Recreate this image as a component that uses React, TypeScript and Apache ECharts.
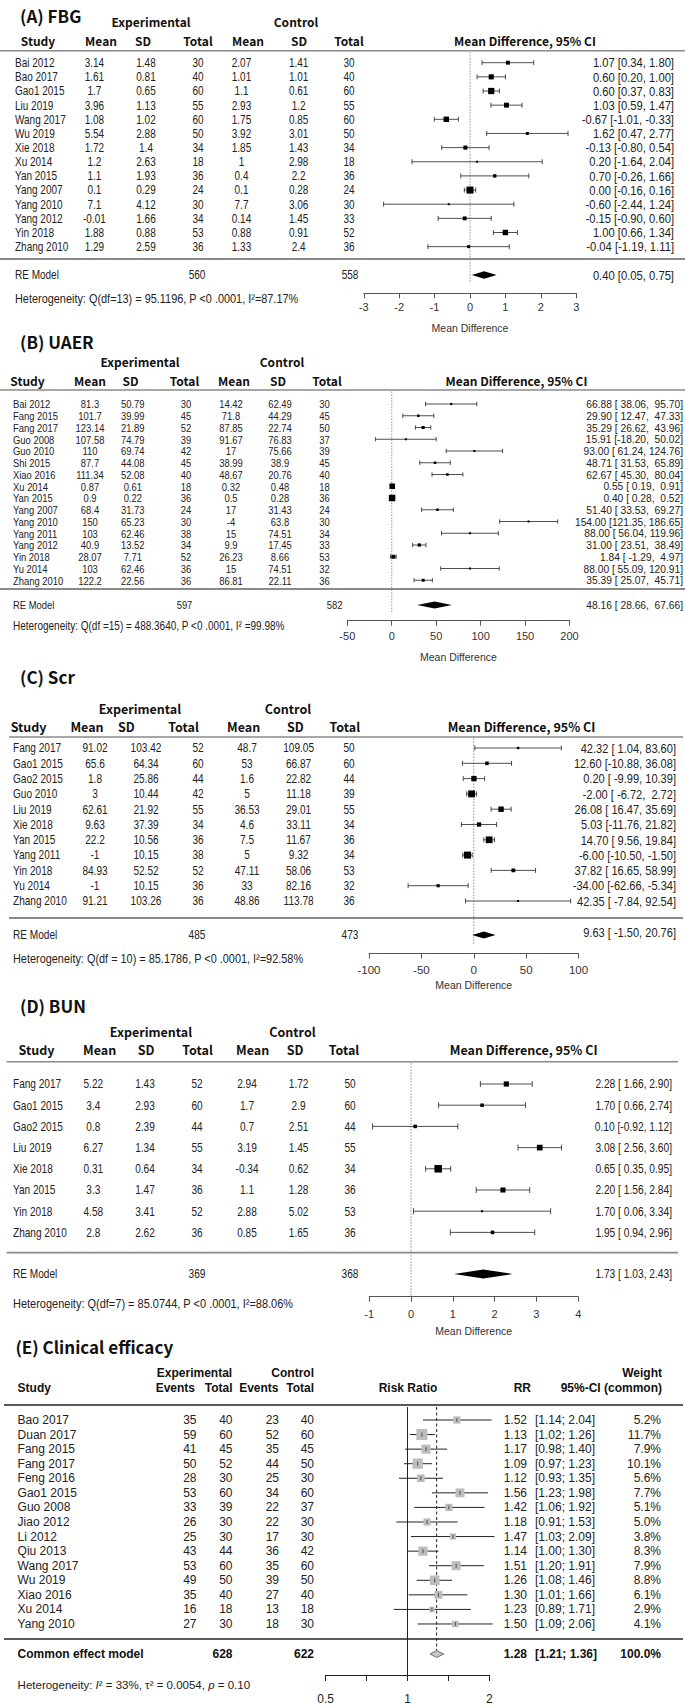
import React, { useEffect, useRef } from "react";
import * as echarts from "echarts";

/* ================= (A) FBG ================= */
const fbgStudies = ["Bai 2012", "Bao 2017", "Gao1 2015", "Liu 2019", "Wang 2017", "Wu 2019", "Xie 2018", "Xu 2014", "Yan 2015", "Yang 2007", "Yang 2010", "Yang 2012", "Yin 2018", "Zhang 2010"];
const fbgExpMean = [3.14, 1.61, 1.7, 3.96, 1.08, 5.54, 1.72, 1.2, 1.1, 0.1, 7.1, -0.01, 1.88, 1.29];
const fbgExpSD = [1.48, 0.81, 0.65, 1.13, 1.02, 2.88, 1.4, 2.63, 1.93, 0.29, 4.12, 1.66, 0.88, 2.59];
const fbgExpN = [30, 40, 60, 55, 60, 50, 34, 18, 36, 24, 30, 34, 53, 36];
const fbgCtlMean = [2.07, 1.01, 1.1, 2.93, 1.75, 3.92, 1.85, 1, 0.4, 0.1, 7.7, 0.14, 0.88, 1.33];
const fbgCtlSD = [1.41, 1.01, 0.61, 1.2, 0.85, 3.01, 1.43, 2.98, 2.2, 0.28, 3.06, 1.45, 0.91, 2.4];
const fbgCtlN = [30, 40, 60, 55, 60, 50, 34, 18, 36, 24, 30, 33, 52, 36];
const fbgMD = [1.07, 0.6, 0.6, 1.03, -0.67, 1.62, -0.13, 0.2, 0.7, 0.0, -0.6, -0.15, 1.0, -0.04];
const fbgLo = [0.34, 0.2, 0.37, 0.59, -1.01, 0.47, -0.8, -1.64, -0.26, -0.16, -2.44, -0.9, 0.66, -1.19];
const fbgHi = [1.8, 1.0, 0.83, 1.47, -0.33, 2.77, 0.54, 2.04, 1.66, 0.16, 1.24, 0.6, 1.34, 1.11];
const fbgPooled = [0.4, 0.05, 0.75];
const fbgTotals = [560, 558];
const fbgAxis = [-3, 3, 1];
const fbgHet = "Heterogeneity: Q(df=13) = 95.1196, P <0 .0001, I²=87.17%";

/* ================= (B) UAER ================= */
const uaerStudies = ["Bai 2012", "Fang 2015", "Fang 2017", "Guo 2008", "Guo 2010", "Shi 2015", "Xiao 2016", "Xu 2014", "Yan 2015", "Yang 2007", "Yang 2010", "Yang 2011", "Yang 2012", "Yin 2018", "Yu 2014", "Zhang 2010"];
const uaerExpMean = [81.3, 101.7, 123.14, 107.58, 110, 87.7, 111.34, 0.87, 0.9, 68.4, 150, 103, 40.9, 28.07, 103, 122.2];
const uaerExpSD = [50.79, 39.99, 21.89, 74.79, 69.74, 44.08, 52.08, 0.61, 0.22, 31.73, 65.23, 62.46, 13.52, 7.71, 62.46, 22.56];
const uaerExpN = [30, 45, 52, 39, 42, 45, 40, 18, 36, 24, 30, 38, 34, 52, 36, 36];
const uaerCtlMean = [14.42, 71.8, 87.85, 91.67, 17, 38.99, 48.67, 0.32, 0.5, 17, -4, 15, 9.9, 26.23, 15, 86.81];
const uaerCtlSD = [62.49, 44.29, 22.74, 76.83, 75.66, 38.9, 20.76, 0.48, 0.28, 31.43, 63.8, 74.51, 17.45, 8.66, 74.51, 22.11];
const uaerCtlN = [30, 45, 50, 37, 39, 45, 40, 18, 36, 24, 30, 34, 33, 53, 32, 36];
const uaerMD = [66.88, 29.9, 35.29, 15.91, 93.0, 48.71, 62.67, 0.55, 0.4, 51.4, 154.0, 88.0, 31.0, 1.84, 88.0, 35.39];
const uaerLo = [38.06, 12.47, 26.62, -18.2, 61.24, 31.53, 45.3, 0.19, 0.28, 33.53, 121.35, 56.04, 23.51, -1.29, 55.09, 25.07];
const uaerHi = [95.7, 47.33, 43.96, 50.02, 124.76, 65.89, 80.04, 0.91, 0.52, 69.27, 186.65, 119.96, 38.49, 4.97, 120.91, 45.71];
const uaerPooled = [48.16, 28.66, 67.66];
const uaerTotals = [597, 582];
const uaerAxis = [-50, 200, 50];
const uaerHet = "Heterogeneity: Q(df =15) = 488.3640, P <0 .0001, I² =99.98%";

/* ================= (C) Scr ================= */
const scrStudies = ["Fang 2017", "Gao1 2015", "Gao2 2015", "Guo 2010", "Liu 2019", "Xie 2018", "Yan 2015", "Yang 2011", "Yin 2018", "Yu 2014", "Zhang 2010"];
const scrExpMean = [91.02, 65.6, 1.8, 3, 62.61, 9.63, 22.2, -1, 84.93, -1, 91.21];
const scrExpSD = [103.42, 64.34, 25.86, 10.44, 21.92, 37.39, 10.56, 10.15, 52.52, 10.15, 103.26];
const scrExpN = [52, 60, 44, 42, 55, 34, 36, 38, 52, 36, 36];
const scrCtlMean = [48.7, 53, 1.6, 5, 36.53, 4.6, 7.5, 5, 47.11, 33, 48.86];
const scrCtlSD = [109.05, 66.87, 22.82, 11.18, 29.01, 33.11, 11.67, 9.32, 58.06, 82.16, 113.78];
const scrCtlN = [50, 60, 44, 39, 55, 34, 36, 34, 53, 32, 36];
const scrMD = [42.32, 12.6, 0.2, -2.0, 26.08, 5.03, 14.7, -6.0, 37.82, -34.0, 42.35];
const scrLo = [1.04, -10.88, -9.99, -6.72, 16.47, -11.76, 9.56, -10.5, 16.65, -62.66, -7.84];
const scrHi = [83.6, 36.08, 10.39, 2.72, 35.69, 21.82, 19.84, -1.5, 58.99, -5.34, 92.54];
const scrPooled = [9.63, -1.5, 20.76];
const scrTotals = [485, 473];
const scrAxis = [-100, 100, 50];
const scrHet = "Heterogeneity: Q(df = 10) = 85.1786, P <0 .0001, I²=92.58%";

/* ================= (D) BUN ================= */
const bunStudies = ["Fang 2017", "Gao1 2015", "Gao2 2015", "Liu 2019", "Xie 2018", "Yan 2015", "Yin 2018", "Zhang 2010"];
const bunExpMean = [5.22, 3.4, 0.8, 6.27, 0.31, 3.3, 4.58, 2.8];
const bunExpSD = [1.43, 2.93, 2.39, 1.34, 0.64, 1.47, 3.41, 2.62];
const bunExpN = [52, 60, 44, 55, 34, 36, 52, 36];
const bunCtlMean = [2.94, 1.7, 0.7, 3.19, -0.34, 1.1, 2.88, 0.85];
const bunCtlSD = [1.72, 2.9, 2.51, 1.45, 0.62, 1.28, 5.02, 1.65];
const bunCtlN = [50, 60, 44, 55, 34, 36, 53, 36];
const bunMD = [2.28, 1.7, 0.1, 3.08, 0.65, 2.2, 1.7, 1.95];
const bunLo = [1.66, 0.66, -0.92, 2.56, 0.35, 1.56, 0.06, 0.94];
const bunHi = [2.9, 2.74, 1.12, 3.6, 0.95, 2.84, 3.34, 2.96];
const bunPooled = [1.73, 1.03, 2.43];
const bunTotals = [369, 368];
const bunAxis = [-1, 4, 1];
const bunHet = "Heterogeneity: Q(df=7) = 85.0744, P <0 .0001, I²=88.06%";

/* ================= (E) Clinical efficacy ================= */
const effStudies = ["Bao 2017", "Duan 2017", "Fang 2015", "Fang 2017", "Feng 2016", "Gao1 2015", "Guo 2008", "Jiao 2012", "Li 2012", "Qiu 2013", "Wang 2017", "Wu 2019", "Xiao 2016", "Xu 2014", "Yang 2010"];
const effExpEvents = [35, 59, 41, 50, 28, 53, 33, 26, 25, 43, 53, 49, 35, 16, 27];
const effExpTotal = [40, 60, 45, 52, 30, 60, 39, 30, 30, 44, 60, 50, 40, 18, 30];
const effCtlEvents = [23, 52, 35, 44, 25, 34, 22, 22, 17, 36, 35, 39, 27, 13, 18];
const effCtlTotal = [40, 60, 45, 50, 30, 60, 37, 30, 30, 42, 60, 50, 40, 18, 30];
const effRR = [1.52, 1.13, 1.17, 1.09, 1.12, 1.56, 1.42, 1.18, 1.47, 1.14, 1.51, 1.26, 1.3, 1.23, 1.5];
const effLo = [1.14, 1.02, 0.98, 0.97, 0.93, 1.23, 1.06, 0.91, 1.03, 1.0, 1.2, 1.08, 1.01, 0.89, 1.09];
const effHi = [2.04, 1.26, 1.4, 1.23, 1.35, 1.98, 1.92, 1.53, 2.09, 1.3, 1.91, 1.46, 1.66, 1.71, 2.06];
const effWeight = [5.2, 11.7, 7.9, 10.1, 5.6, 7.7, 5.1, 5.0, 3.8, 8.3, 7.9, 8.8, 6.1, 2.9, 4.1];
const effPooled = [1.28, 1.21, 1.36];
const effTotals = [628, 622];
const effAxisTicks = [0.5, 1, 2];

/* ================= fonts ================= */
const F_ARIAL = '"Liberation Sans", Arial, sans-serif';
const F_HEAD = '"Noto Sans CJK KR", "Noto Sans", sans-serif';
const NARROW = 0.82; // horizontal squeeze emulating a narrow face

const mdPanels = [
  { title: "(A) FBG", studies: fbgStudies, cells: [fbgExpMean, fbgExpSD, fbgExpN, fbgCtlMean, fbgCtlSD, fbgCtlN], md: fbgMD, lo: fbgLo, hi: fbgHi, pooled: fbgPooled, totals: fbgTotals, axis: fbgAxis, het: fbgHet, pad: false },
  { title: "(B) UAER", studies: uaerStudies, cells: [uaerExpMean, uaerExpSD, uaerExpN, uaerCtlMean, uaerCtlSD, uaerCtlN], md: uaerMD, lo: uaerLo, hi: uaerHi, pooled: uaerPooled, totals: uaerTotals, axis: uaerAxis, het: uaerHet, pad: true },
  { title: "(C) Scr", studies: scrStudies, cells: [scrExpMean, scrExpSD, scrExpN, scrCtlMean, scrCtlSD, scrCtlN], md: scrMD, lo: scrLo, hi: scrHi, pooled: scrPooled, totals: scrTotals, axis: scrAxis, het: scrHet, pad: true },
  { title: "(D) BUN", studies: bunStudies, cells: [bunExpMean, bunExpSD, bunExpN, bunCtlMean, bunCtlSD, bunCtlN], md: bunMD, lo: bunLo, hi: bunHi, pooled: bunPooled, totals: bunTotals, axis: bunAxis, het: bunHet, pad: true },
];

/* layout (pixels) */
const mdLayouts = [
  { titleX: 20, titleY: 15, expY: 21.7, headY: 40.7, lineY: 50.7, row0: 62.7, step: 14.15, sepY: 259, reY: 275, axisY: 293.3, hetY: 298.3, zeroEnd: 283,
    x0: 363.8, x1: 576.2, rowFont: 12.2, headFont: 12, axisFont: 11, nameFont: 10.5, hetFont: 13.3, ciSx: 0.92,
    cols: [15, 94.4, 146, 198, 241.5, 298.6, 349], heads: [38, 101, 143, 198, 248, 299, 349], expX: 151, ctlX: 296, mdHeadX: 525,
    ciX: 674, totX: [197, 350], labelMargin: 8, nameGap: 29, boxMin: 2, boxMax: 7, capH: 2.5, ruleX: [0, 685], diaH: 3.8, reCiDy: 0 },
  { titleX: 20, titleY: 341.7, expY: 361.7, headY: 380, lineY: 390, row0: 404, step: 11.75, sepY: 589, reY: 605, axisY: 620.7, hetY: 626, zeroEnd: 612,
    x0: 347.3, x1: 569.5, rowFont: 11.5, headFont: 12, axisFont: 11, nameFont: 10.5, hetFont: 12.2, ciSx: 0.89,
    cols: [13, 90, 132.8, 185.9, 231, 280, 324.5], heads: [27.5, 90, 130.5, 184.5, 234, 278, 327], expX: 140, ctlX: 282, mdHeadX: 516.5,
    ciX: 683, totX: [184.5, 334.6], labelMargin: 9.5, nameGap: 31, boxMin: 2, boxMax: 6.5, capH: 2.2, ruleX: [0, 685], diaH: 3.4, reCiDy: 0 },
  { titleX: 20, titleY: 676.7, expY: 708, headY: 726, lineY: 737, row0: 748, step: 15.3, sepY: 918, reY: 935, axisY: 953.5, hetY: 958.3, zeroEnd: 944,
    x0: 369, x1: 578.5, rowFont: 12.3, headFont: 12.5, axisFont: 11.5, nameFont: 10.5, hetFont: 13.3, ciSx: 0.9,
    cols: [13, 95, 146, 198, 247, 298.6, 349], heads: [28.6, 87, 126.4, 183.6, 243.7, 295.4, 344.8], expX: 140, ctlX: 288, mdHeadX: 521.5,
    ciX: 676, totX: [197, 350], labelMargin: 10, nameGap: 26, boxMin: 2, boxMax: 7, capH: 2.5, ruleX: [9, 683], diaH: 3.6, reCiDy: -3 },
  { titleX: 20, titleY: 1005, expY: 1031, headY: 1049.3, lineY: 1061.7, row0: 1084, step: 21.2, sepY: 1252.7, reY: 1274, axisY: 1296.7, hetY: 1303.3, zeroEnd: 1296.7,
    x0: 369.2, x1: 578.2, rowFont: 12.3, headFont: 12.5, axisFont: 11, nameFont: 10.5, hetFont: 13.4, ciSx: 0.83,
    cols: [13, 93.3, 145, 197, 247, 298.6, 350], heads: [36.5, 99.6, 146, 197.6, 252.6, 295, 344], expX: 151, ctlX: 292.5, mdHeadX: 523.7,
    ciX: 672, totX: [197, 350], labelMargin: 12, nameGap: 29, boxMin: 2, boxMax: 7.5, capH: 3, ruleX: [6.6, 678], diaH: 4.5, reCiDy: 0 },
];

const effLayout = {
  titleX: 15.4, titleY: 1346.7, expY: 1373, headY: 1388, lineY: 1405, row0: 1420, step: 14.57, sepY: 1639, reY: 1654, axisY: 1675, hetY: 1685,
  x0: 325.7, x1: 489.3, font: 12, headFont: 12, hetFont: 11.5,
  study: 17.6, eEv: 196.5, eN: 232.5, cEv: 279, cN: 314, rr: 527, ci: 535, w: 661,
  hExp: 194.5, hCtl: 314, hW: 662, hEv1: 195, hN1: 232.5, hEv2: 278.5, hN2: 314, hRisk: 408, hRR: 531, hCI: 662,
  boxMax: 11, diaH: 3.5, labelMargin: 18,
};

/* ================= helpers ================= */
function textEl(x: number, y: number, text: string, o: any) {
  const align = o.align || "center";
  const weight = o.weight || "normal";
  const style: any = {
    text,
    fill: o.color || "#222",
    fontSize: o.size,
    fontFamily: o.family,
    fontWeight: weight,
    fontStyle: o.italic ? "italic" : "normal",
    font: `${o.italic ? "italic " : ""}${weight} ${o.size}px ${o.family}`,
    align,
    textAlign: align,
    verticalAlign: "middle",
    textVerticalAlign: "middle",
  };
  if (o.rich) style.rich = o.rich;
  const el: any = { type: "text", x, y, silent: true, style };
  if (o.sx) el.scaleX = o.sx;
  return el;
}

function ruleEl(x1: number, x2: number, y: number, color: string, w: number) {
  return { type: "line", silent: true, shape: { x1, y1: y, x2, y2: y }, style: { stroke: color, lineWidth: w } };
}

function ciStrings(d: any) {
  const f = (v: number) => v.toFixed(2);
  const allLo = d.lo.concat([d.pooled[1]]).map(f);
  const allHi = d.hi.concat([d.pooled[2]]).map(f);
  const wl = Math.max(...allLo.map((s: string) => s.length));
  const wh = Math.max(...allHi.map((s: string) => s.length));
  const pad = (s: string, n: number) => (d.pad && s.length < n ? "\u00A0" + s : s);
  const make = (m: number, l: number, h: number) => `${f(m)} [${pad(f(l), wl)}, ${pad(f(h), wh)}]`;
  return {
    rows: d.md.map((m: number, i: number) => make(m, d.lo[i], d.hi[i])),
    pooled: make(d.pooled[0], d.pooled[1], d.pooled[2]),
  };
}

/* ================= option ================= */
function buildOption() {
  const grid: any[] = [];
  const xAxis: any[] = [];
  const yAxis: any[] = [];
  const series: any[] = [];
  const graphic: any[] = [];

  mdPanels.forEach((d, k) => {
    const L = mdLayouts[k];
    const rowFont = { size: L.rowFont, family: F_ARIAL, sx: NARROW, color: "#222" };
    const ciFont = { size: L.rowFont, family: F_ARIAL, sx: L.ciSx, color: "#222", align: "right" };
    const headOpt = { size: L.headFont, family: F_HEAD, weight: "bold", color: "#111" };

    grid.push({ left: L.x0, width: L.x1 - L.x0, top: L.lineY, height: L.axisY - L.lineY, containLabel: false, outerBoundsMode: "none" });
    xAxis.push({
      gridIndex: k, type: "value", min: d.axis[0], max: d.axis[1], interval: d.axis[2], position: "bottom",
      axisLine: { show: true, onZero: false, lineStyle: { color: "#555", width: 1 } },
      axisTick: { show: true, inside: false, length: 5, lineStyle: { color: "#555", width: 1 } },
      axisLabel: { color: "#333", fontSize: L.axisFont, fontFamily: F_ARIAL, margin: L.labelMargin },
      splitLine: { show: false },
      name: "Mean Difference", nameLocation: "middle", nameGap: L.nameGap,
      nameTextStyle: { color: "#333", fontSize: L.nameFont, fontFamily: F_ARIAL },
    });
    yAxis.push({ gridIndex: k, type: "value", min: (L.lineY - L.row0) / L.step, max: (L.axisY - L.row0) / L.step, inverse: true, show: false });

    const ci = ciStrings(d);
    const reRow = (L.reY - L.row0) / L.step;
    const zTop = (L.lineY + 1.5 - L.row0) / L.step;
    const zEnd = (L.zeroEnd - L.row0) / L.step;

    // pooled estimate + zero reference line
    series.push({
      type: "custom", xAxisIndex: k, yAxisIndex: k, clip: false, silent: true,
      encode: { x: [0, 1, 2], y: 3 },
      data: [[d.pooled[0], d.pooled[1], d.pooled[2], reRow]],
      renderItem: (params: any, api: any) => {
        const rv = api.value(3);
        const c = api.coord([api.value(0), rv]);
        const l = api.coord([api.value(1), rv]);
        const h = api.coord([api.value(2), rv]);
        const z0 = api.coord([0, zTop]);
        const z1 = api.coord([0, zEnd]);
        const y = c[1];
        return {
          type: "group",
          children: [
            { type: "line", shape: { x1: z0[0], y1: z0[1], x2: z1[0], y2: z1[1] }, style: { stroke: "#777", lineWidth: 0.8, lineDash: [1.5, 1.5] } },
            { type: "polygon", shape: { points: [[l[0], y], [c[0], y - L.diaH], [h[0], y], [c[0], y + L.diaH]] }, style: { fill: "#000" } },
            textEl(L.cols[0], y, "RE Model", { ...rowFont, align: "left" }),
            textEl(L.totX[0], y, String(d.totals[0]), rowFont),
            textEl(L.totX[1], y, String(d.totals[1]), rowFont),
            textEl(L.ciX, y + L.reCiDy, ci.pooled, ciFont),
          ],
        };
      },
    });

    // study rows
    const ws = d.lo.map((l: number, i: number) => 3.92 / (d.hi[i] - l));
    const lnMin = Math.log(Math.min(...ws));
    const lnMax = Math.log(Math.max(...ws));
    series.push({
      type: "custom", xAxisIndex: k, yAxisIndex: k, clip: false, silent: true,
      encode: { x: [0, 1, 2], y: 3 },
      data: d.md.map((m: number, i: number) => [m, d.lo[i], d.hi[i], i]),
      renderItem: (params: any, api: any) => {
        const i = params.dataIndex;
        const rv = api.value(3);
        const e = api.coord([api.value(0), rv]);
        const l = api.coord([api.value(1), rv]);
        const h = api.coord([api.value(2), rv]);
        const y = e[1];
        const t = (Math.log(ws[i]) - lnMin) / (lnMax - lnMin);
        const s = L.boxMin + t * (L.boxMax - L.boxMin);
        const ls = { stroke: "#222", lineWidth: 0.8 };
        const kids: any[] = [
          { type: "line", shape: { x1: l[0], y1: y, x2: h[0], y2: y }, style: ls },
          { type: "line", shape: { x1: l[0], y1: y - L.capH, x2: l[0], y2: y + L.capH }, style: ls },
          { type: "line", shape: { x1: h[0], y1: y - L.capH, x2: h[0], y2: y + L.capH }, style: ls },
          { type: "rect", shape: { x: e[0] - s / 2, y: y - s / 2, width: s, height: s }, style: { fill: "#000" } },
          textEl(L.cols[0], y, d.studies[i], { ...rowFont, align: "left" }),
        ];
        d.cells.forEach((col: number[], j: number) => {
          kids.push(textEl(L.cols[j + 1], y, String(col[i]), rowFont));
        });
        kids.push(textEl(L.ciX, y, ci.rows[i], ciFont));
        return { type: "group", children: kids };
      },
    });

    // static table furniture
    graphic.push(textEl(L.titleX, L.titleY, d.title, { size: 17, family: F_HEAD, weight: "bold", color: "#111", align: "left" }));
    graphic.push(textEl(L.expX, L.expY, "Experimental", headOpt));
    graphic.push(textEl(L.ctlX, L.expY, "Control", headOpt));
    ["Study", "Mean", "SD", "Total", "Mean", "SD", "Total"].forEach((h, j) => {
      graphic.push(textEl(L.heads[j], L.headY, h, headOpt));
    });
    graphic.push(textEl(L.mdHeadX, L.headY, "Mean Difference, 95% CI", headOpt));
    graphic.push(ruleEl(L.ruleX[0], L.ruleX[1], L.lineY, "#8a8a8a", 1.6));
    graphic.push(ruleEl(L.ruleX[0], L.ruleX[1], L.sepY, "#8a8a8a", 1.8));
    graphic.push(textEl(L.cols[0], L.hetY, d.het, { size: L.hetFont, family: F_ARIAL, sx: NARROW, align: "left", color: "#222" }));
  });

  /* ---------- panel E ---------- */
  const E = effLayout;
  const k = 4;
  grid.push({ left: E.x0, width: E.x1 - E.x0, top: E.lineY, height: E.axisY - E.lineY, containLabel: false, outerBoundsMode: "none" });
  xAxis.push({
    gridIndex: k, type: "value", min: Math.log2(effAxisTicks[0]), max: Math.log2(effAxisTicks[2]), interval: 0.5, position: "bottom",
    axisLine: { show: true, onZero: false, lineStyle: { color: "#222", width: 1 } },
    axisTick: { show: true, inside: false, length: 6, lineStyle: { color: "#222", width: 1 } },
    axisLabel: {
      color: "#222", fontSize: 12, fontFamily: F_ARIAL, margin: E.labelMargin,
      formatter: (v: number) => {
        const p = Math.pow(2, v);
        const hit = effAxisTicks.find((t) => Math.abs(t - p) < 1e-6);
        return hit !== undefined ? String(hit) : "";
      },
    },
    splitLine: { show: false },
  });
  yAxis.push({ gridIndex: k, type: "value", min: (E.lineY - E.row0) / E.step, max: (E.axisY - E.row0) / E.step, inverse: true, show: false });

  const eFont = { size: E.font, family: F_ARIAL };
  const eBold = { size: E.font, family: F_ARIAL, weight: "bold", color: "#111" };
  const eRe = (E.reY - E.row0) / E.step;
  const eTop = (E.lineY + 2 - E.row0) / E.step;
  const eBottom = (E.axisY - E.row0) / E.step;
  const maxW = Math.max(...effWeight);

  series.push({
    type: "custom", xAxisIndex: k, yAxisIndex: k, clip: false, silent: true,
    encode: { x: [0, 1, 2], y: 3 },
    data: [[Math.log2(effPooled[0]), Math.log2(effPooled[1]), Math.log2(effPooled[2]), eRe]],
    renderItem: (params: any, api: any) => {
      const rv = api.value(3);
      const c = api.coord([api.value(0), rv]);
      const l = api.coord([api.value(1), rv]);
      const h = api.coord([api.value(2), rv]);
      const one0 = api.coord([0, eTop]);
      const one1 = api.coord([0, eBottom]);
      const d0 = api.coord([api.value(0), eTop]);
      const y = c[1];
      return {
        type: "group",
        children: [
          { type: "line", shape: { x1: one0[0], y1: one0[1], x2: one1[0], y2: one1[1] }, style: { stroke: "#222", lineWidth: 1 } },
          { type: "line", shape: { x1: d0[0], y1: d0[1], x2: c[0], y2: y - E.diaH }, style: { stroke: "#222", lineWidth: 1, lineDash: [3, 2.5] } },
          { type: "polygon", shape: { points: [[l[0], y], [c[0], y - E.diaH], [h[0], y], [c[0], y + E.diaH]] }, style: { fill: "#c4c4c4", stroke: "#555", lineWidth: 0.8 } },
          textEl(E.study, y, "Common effect model", { ...eBold, align: "left" }),
          textEl(E.eN, y, String(effTotals[0]), { ...eBold, align: "right" }),
          textEl(E.cN, y, String(effTotals[1]), { ...eBold, align: "right" }),
          textEl(E.rr, y, effPooled[0].toFixed(2), { ...eBold, align: "right" }),
          textEl(E.ci, y, `[${effPooled[1].toFixed(2)}; ${effPooled[2].toFixed(2)}]`, { ...eBold, align: "left" }),
          textEl(E.w, y, "100.0%", { ...eBold, align: "right" }),
        ],
      };
    },
  });

  series.push({
    type: "custom", xAxisIndex: k, yAxisIndex: k, clip: false, silent: true,
    encode: { x: [0, 1, 2], y: 3 },
    data: effRR.map((r, i) => [Math.log2(r), Math.log2(effLo[i]), Math.log2(effHi[i]), i]),
    renderItem: (params: any, api: any) => {
      const i = params.dataIndex;
      const rv = api.value(3);
      const e = api.coord([api.value(0), rv]);
      const l = api.coord([api.value(1), rv]);
      const h = api.coord([api.value(2), rv]);
      const y = e[1];
      const s = E.boxMax * Math.sqrt(effWeight[i] / maxW);
      return {
        type: "group",
        children: [
          { type: "line", shape: { x1: l[0], y1: y, x2: h[0], y2: y }, style: { stroke: "#222", lineWidth: 1 } },
          { type: "rect", shape: { x: e[0] - s / 2, y: y - s / 2, width: s, height: s }, style: { fill: "#bdbdbd" } },
          { type: "line", shape: { x1: e[0], y1: y - 2, x2: e[0], y2: y + 2 }, style: { stroke: "#333", lineWidth: 0.8 } },
          textEl(E.study, y, effStudies[i], { ...eFont, align: "left" }),
          textEl(E.eEv, y, String(effExpEvents[i]), { ...eFont, align: "right" }),
          textEl(E.eN, y, String(effExpTotal[i]), { ...eFont, align: "right" }),
          textEl(E.cEv, y, String(effCtlEvents[i]), { ...eFont, align: "right" }),
          textEl(E.cN, y, String(effCtlTotal[i]), { ...eFont, align: "right" }),
          textEl(E.rr, y, effRR[i].toFixed(2), { ...eFont, align: "right" }),
          textEl(E.ci, y, `[${effLo[i].toFixed(2)}; ${effHi[i].toFixed(2)}]`, { ...eFont, align: "left" }),
          textEl(E.w, y, `${effWeight[i].toFixed(1)}%`, { ...eFont, align: "right" }),
        ],
      };
    },
  });

  const eHead = { size: E.headFont, family: F_ARIAL, weight: "bold", color: "#111" };
  graphic.push(textEl(E.titleX, E.titleY, "(E) Clinical efficacy", { size: 17, family: F_HEAD, weight: "bold", color: "#111", align: "left" }));
  graphic.push(textEl(E.hExp, E.expY, "Experimental", eHead));
  graphic.push(textEl(E.hCtl, E.expY, "Control", { ...eHead, align: "right" }));
  graphic.push(textEl(E.hW, E.expY, "Weight", { ...eHead, align: "right" }));
  graphic.push(textEl(E.study, E.headY, "Study", { ...eHead, align: "left" }));
  graphic.push(textEl(E.hEv1, E.headY, "Events", { ...eHead, align: "right" }));
  graphic.push(textEl(E.hN1, E.headY, "Total", { ...eHead, align: "right" }));
  graphic.push(textEl(E.hEv2, E.headY, "Events", { ...eHead, align: "right" }));
  graphic.push(textEl(E.hN2, E.headY, "Total", { ...eHead, align: "right" }));
  graphic.push(textEl(E.hRisk, E.headY, "Risk Ratio", eHead));
  graphic.push(textEl(E.hRR, E.headY, "RR", { ...eHead, align: "right" }));
  graphic.push(textEl(E.hCI, E.headY, "95%-CI (common)", { ...eHead, align: "right" }));
  graphic.push(ruleEl(4, 683, E.lineY, "#222", 1.5));
  graphic.push(ruleEl(4, 683, E.sepY, "#222", 1.5));
  const hetRich = {
    a: { fontSize: E.hetFont, fontFamily: F_ARIAL, fill: "#222", color: "#222" },
    i: { fontSize: E.hetFont, fontFamily: F_ARIAL, fontStyle: "italic", fill: "#222", color: "#222" },
  };
  graphic.push(
    textEl(E.study, E.hetY, "{a|Heterogeneity: }{i|I}{a|² = 33%, τ² = 0.0054, }{i|p}{a| = 0.10}", {
      size: E.hetFont, family: F_ARIAL, align: "left", rich: hetRich,
    })
  );

  return {
    animation: false,
    backgroundColor: "#ffffff",
    tooltip: { show: false },
    grid,
    xAxis,
    yAxis,
    series,
    graphic: { elements: graphic },
  };
}

export default function App() {
  const ref = useRef<HTMLDivElement>(null);
  useEffect(() => {
    if (!ref.current) return;
    const chart = echarts.init(ref.current, null, { renderer: "svg", width: 685, height: 1708 });
    chart.setOption(buildOption() as any);
    return () => {
      chart.dispose();
    };
  }, []);
  return (
    <div
      ref={ref}
      style={{ position: "absolute", left: 0, top: 0, width: 685, height: 1708, background: "#fff" }}
    />
  );
}
